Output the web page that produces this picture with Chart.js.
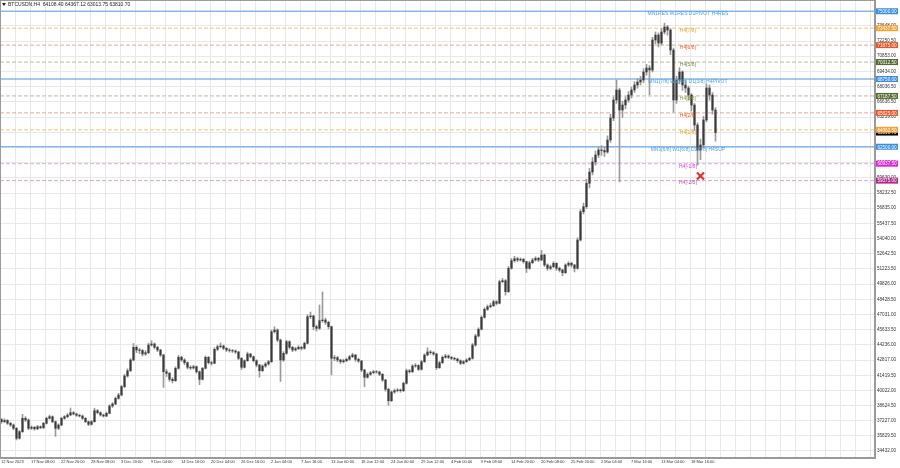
<!DOCTYPE html>
<html lang="en">
<head>
<meta charset="UTF-8">
<title>BTCUSDN,H4</title>
<script src="https://cdn.jsdelivr.net/npm/chart.js@4.4.1/dist/chart.umd.min.js"></script>
<style>
  html, body { margin: 0; padding: 0; background: #fff; }
</style>
</head>
<body>
<canvas id="chart" width="900" height="468"></canvas>
<script>
    // price data (one candle = about 3 H4 bars)
    var firstOpen = 37350;
    var closes = [
        37135, 37246, 36987, 36830, 36526, 35604, 36212, 37449, 37292, 36526,
        36618, 36480, 36674, 36581, 36987, 37449, 37596, 37135, 36526, 36830,
        37449, 37596, 37753, 37965, 37845, 37725, 37661, 37449, 37135, 36895,
        37135, 38150, 37965, 37753, 37661, 37910, 38583, 38768, 39294, 39598,
        40364, 41351, 41840, 42827, 43998, 43749, 43700, 43380, 43500, 44211,
        44303, 43998, 43749, 43288, 41747, 41600, 41046, 40917, 42061, 43076,
        42827, 42578, 42153, 42089, 42209, 41747, 41046, 42061, 43076, 42578,
        42522, 43814, 44054, 44118, 43906, 43749, 43700, 43657, 43565, 42984,
        42153, 42762, 43380, 43131, 42762, 42366, 41840, 42273, 42458, 42670,
        45437, 45594, 44672, 42827, 43445, 44515, 43998, 43749, 43869, 43998,
        43906, 44367, 46821, 46886, 45899, 45751, 46452, 46517, 46305, 45899,
        42984, 43050, 42827, 42670, 42762, 42891, 43131, 43288, 42891, 42735,
        41904, 41231, 41508, 41655, 41747, 41720, 41508, 40982, 40124, 39072,
        39875, 39995, 40059, 39995, 40677, 41840, 41747, 42273, 42320, 41969,
        42670, 43288, 43565, 43500, 43380, 42116, 42578, 43076, 43196, 43076,
        42984, 42919, 42762, 42522, 42670, 42827, 42984, 44211, 45041, 45659,
        46766, 47504, 47744, 47836, 48205, 48057, 50050, 50142, 49127, 51286,
        51987, 52172, 52052, 52116, 51895, 51286, 51803, 52052, 52209, 52052,
        52513, 51591, 51286, 51434, 51747, 51286, 51129, 50880, 51591, 51747,
        51591, 51286, 53897, 56507, 56969, 59127, 60170, 61092, 61738, 62199,
        62150, 62015, 63122, 65151, 66812, 67734, 65889, 66351, 66812, 67273,
        67734, 68196, 68472, 68657, 69395, 69764, 69579, 72347, 72808, 72070,
        73085, 73546, 73269, 71424, 66812, 68657, 69395, 68196, 67919, 67273,
        66351, 64506, 62199, 62661, 64967, 67919, 67273, 65889, 63810.70
    ];
    var highs = [
        37420, 37400, 37330, 37100, 36920, 36600, 36330, 37820, 37600, 37380,
        36760, 36700, 36790, 36750, 37080, 37560, 37750, 37680, 37200, 36950,
        37530, 37700, 37880, 38400, 38080, 37930, 37840, 37750, 37520, 37200,
        37260, 38380, 38260, 38050, 37840, 38020, 38700, 38900, 39420, 39750,
        40500, 41500, 42020, 42960, 44350, 44150, 43900, 43800, 43700, 44380,
        44600, 44400, 44100, 43820, 43350, 41950, 41700, 41200, 42200, 43250,
        43180, 42950, 42650, 42300, 42350, 42280, 41820, 42150, 43200, 43150,
        42700, 43950, 44200, 44400, 44200, 43980, 43880, 43800, 43760, 43620,
        43050, 42850, 43550, 43450, 43200, 42850, 42420, 42380, 42600, 42800,
        45600, 45900, 45700, 44750, 43600, 44650, 44600, 44100, 44000, 44150,
        44100, 44500, 47000, 47250, 46950, 46050, 47900, 49100, 46700, 46400,
        45950, 43250, 43150, 42900, 42900, 43000, 43250, 43450, 43350, 43000,
        42800, 41980, 41650, 41780, 41880, 41850, 41800, 41580, 41050, 40200,
        40000, 40150, 40200, 40150, 40800, 42000, 41950, 42400, 42500, 42400,
        42800, 43400, 43950, 43700, 43600, 43450, 42700, 43200, 43350, 43300,
        43150, 43100, 43000, 42850, 42800, 42950, 43100, 44350, 45200, 45800,
        46900, 47650, 47900, 48050, 48350, 48300, 50200, 50350, 50250, 51450,
        52200, 52400, 52300, 52250, 52200, 51950, 51950, 52200, 52350, 52300,
        52950, 52600, 51700, 51580, 51900, 51800, 51400, 51200, 51700, 51900,
        51850, 51650, 54100, 56700, 57300, 59500, 60500, 61500, 62100, 62500,
        62600, 62500, 63500, 65500, 67100, 68650, 67900, 66700, 67100, 67600,
        68000, 68500, 68800, 69000, 69700, 70100, 70000, 72600, 73100, 73000,
        73400, 73900, 73700, 73400, 71600, 69000, 69800, 69500, 68600, 68100,
        67400, 66500, 64700, 63200, 65300, 68300, 68200, 67500, 66100
    ];
    var lows = [
        36980, 37050, 36880, 36700, 36380, 35450, 35520, 36150, 37150, 36400,
        36420, 36350, 36400, 36480, 36500, 36920, 37380, 37040, 35780, 36400,
        36760, 37350, 37500, 37680, 37760, 37620, 37560, 37340, 37040, 36770,
        36820, 37080, 37850, 37650, 37560, 37600, 37860, 38450, 38700, 39200,
        39520, 40280, 41250, 41760, 42750, 43500, 43420, 43200, 43250, 43420,
        44100, 43850, 43600, 43150, 40300, 41300, 40850, 40700, 40850, 41980,
        42700, 42400, 42000, 41950, 41980, 41600, 40550, 40980, 41990, 42450,
        42350, 42480, 43700, 43950, 43780, 43600, 43550, 43520, 43420, 42850,
        41950, 42080, 42700, 43000, 42650, 42200, 41250, 41760, 42150, 42350,
        42600, 45300, 44500, 40850, 42700, 43350, 43850, 43600, 43650, 43780,
        43750, 43820, 44300, 46650, 45600, 45500, 45650, 46300, 46100, 45700,
        41450, 42750, 42650, 42500, 42550, 42650, 42800, 43050, 42700, 42600,
        41750, 40350, 41150, 41400, 41550, 41600, 41380, 40850, 39950, 38650,
        38980, 39750, 39880, 39850, 39900, 40600, 41600, 41650, 42150, 41850,
        41900, 42600, 43200, 43350, 43250, 41950, 42050, 42500, 43000, 42950,
        42850, 42800, 42600, 42400, 42450, 42600, 42750, 42900, 44100, 44950,
        45600, 46700, 47400, 47650, 47750, 47900, 48000, 49950, 48800, 49050,
        51200, 51850, 51900, 51950, 51750, 50900, 51200, 51700, 51950, 51900,
        51980, 51450, 51100, 51150, 51350, 51100, 50950, 50600, 50800, 51450,
        51400, 50950, 51200, 53800, 56300, 56800, 58700, 59900, 60800, 61500,
        61700, 61600, 61900, 62900, 64900, 66500, 59250, 65200, 66000, 66600,
        67000, 67500, 67900, 68200, 68400, 69100, 67300, 69400, 72000, 71700,
        71900, 72900, 72800, 71000, 65700, 66500, 68300, 67700, 67500, 66800,
        65800, 64000, 60800, 61300, 62400, 64800, 66800, 65500, 63013.75
    ];

    // time axis labels, one every 10 candles
    var xLabels = ['12 Nov 2023', '17 Nov 08:00', '22 Nov 20:00', '28 Nov 08:00', '3 Dec 20:00',
        '9 Dec 04:00', '14 Dec 16:00', '20 Dec 04:00', '26 Dec 16:00', '2 Jan 04:00',
        '7 Jan 16:00', '13 Jan 00:00', '18 Jan 12:00', '24 Jan 00:00', '29 Jan 12:00',
        '4 Feb 00:00', '9 Feb 08:00', '14 Feb 20:00', '20 Feb 08:00', '25 Feb 20:00',
        '2 Mar 04:00', '7 Mar 16:00', '13 Mar 04:00', '18 Mar 16:00'];

    // price axis labels
    var yTicks = [34432.00, 35829.50, 37227.00, 38624.50, 40022.00, 41419.50, 42817.00,
        44236.00, 45633.50, 47031.00, 48428.50, 49826.00, 51223.50, 52642.50, 54040.00,
        55437.50, 56835.00, 58232.50, 59630.00, 61027.50, 62425.00, 63841.50, 65239.00,
        66636.50, 68036.50, 69434.00, 70853.00, 72250.50, 73648.00];

    // murrey / pivot levels
    var levels = [75000, 73437.5, 71875, 70312.5, 68750, 67187.5, 65625, 64062.5, 62500, 60937.5, 59375];
    var levelNames = ['MN1RES W1RES D1PIVOT H4RES', 'H4[7/8]', 'H4[6/8]', 'H4[5/8]',
        'MN1[7/8] W1[7/8] D1[3/8] H4PIVOT', 'H4[3/8]', 'H4[2/8]', 'H4[1/8]',
        'MN1[6/8] W1[6/8] D1[2/8] H4SUP', 'H4[-1/8]', 'H4[-2/8]'];

    // red cross arrow object
    var markX = [233];
    var markY = [59800];

    var headerText = 'BTCUSDN,H4  64108.40 64367.12 63013.75 63810.70';

    // styles
    var lineColors = ['#86b8e8', '#e8c878', '#e4a898', '#b8bea0', '#86b8e8', '#b8bea0', '#e4a898', '#e8c878', '#86b8e8', '#e2a8e2', '#d8a8c8'];
    var textColors = ['#4a9fe6', '#f0a030', '#e8602a', '#6f8f3a', '#4a9fe6', '#8aa04a', '#e8602a', '#f0a030', '#4a9fe6', '#e040e0', '#c450a0'];
    var boxColors = ['#3b8de0', '#f5a030', '#e8562a', '#556b2f', '#3b8de0', '#556b2f', '#e8562a', '#f5a030', '#3b8de0', '#e020e0', '#b02a8a'];
    var solidLevel = [true, false, false, false, true, false, false, false, true, false, false];

    var FONT = "'Liberation Sans', Arial, sans-serif";
    var xMin = -0.5, xMax = 291.17;
    var yMin = 33786, yMax = 76037;

    var wickData = [], bodyData = [];
    closes.forEach(function(c, i) {
        var o = i === 0 ? firstOpen : closes[i - 1];
        wickData.push({x: i, y: [lows[i], highs[i]]});
        bodyData.push({x: i, y: [o, c]});
    });

    var datasets = [];
    levels.forEach(function(lv, i) {
        datasets.push({
            type: 'line',
            data: [{x: xMin, y: lv}, {x: xMax, y: lv}],
            borderColor: lineColors[i],
            borderWidth: solidLevel[i] ? 1.6 : 1,
            borderDash: solidLevel[i] ? [] : [4, 2],
            pointRadius: 0,
            order: 5
        });
    });
    datasets.push({type: 'bar', data: wickData, backgroundColor: '#9a9a9a', barThickness: 1, grouped: false, borderWidth: 0, order: 3});
    datasets.push({type: 'bar', data: bodyData, backgroundColor: '#3a3a3a', barThickness: 1.5, grouped: false, borderWidth: 0, order: 2});
    datasets.push({
        type: 'scatter',
        data: markX.map(function(x, i) { return {x: x, y: markY[i]}; }),
        pointStyle: 'crossRot', pointRadius: 5, borderColor: '#e0302a', borderWidth: 2.2,
        order: 0
    });

    function noPad(scale) {
        scale.paddingLeft = 0; scale.paddingRight = 0;
        scale.paddingTop = 0; scale.paddingBottom = 0;
    }

    // MT4 style extras: border, header, level captions, price boxes
    var decor = {
        id: 'decor',
        afterDraw: function(chart) {
            var ctx = chart.ctx, a = chart.chartArea;
            var xs = chart.scales.x, ys = chart.scales.y;
            ctx.save();
            ctx.strokeStyle = '#9a9a9a';
            ctx.lineWidth = 1;
            ctx.strokeRect(a.left + 0.5, a.top + 0.5, a.right - a.left - 1, a.bottom - a.top - 1);

            // header
            ctx.fillStyle = '#222';
            ctx.beginPath();
            ctx.moveTo(2, 3); ctx.lineTo(6, 3); ctx.lineTo(4, 6); ctx.closePath(); ctx.fill();
            ctx.font = '5px ' + FONT;
            ctx.textBaseline = 'middle';
            ctx.textAlign = 'left';
            ctx.fillText(headerText, 8, 5);

            // level captions
            var cx = xs.getPixelForValue(228.8);
            ctx.textAlign = 'center';
            levels.forEach(function(lv, i) {
                ctx.fillStyle = textColors[i];
                ctx.fillText(levelNames[i], cx, ys.getPixelForValue(lv) + 2.5);
            });

            // last price box, then level boxes
            var bx = a.right + 1, bw = 22, bh = 6;
            ctx.font = '4.6px ' + FONT;
            var py = ys.getPixelForValue(closes[closes.length - 1]);
            ctx.fillStyle = '#000';
            ctx.fillRect(bx, py - bh / 2, bw, bh);
            ctx.fillStyle = '#fff';
            ctx.fillText(closes[closes.length - 1].toFixed(2), bx + bw / 2, py + 0.5);
            levels.forEach(function(lv, i) {
                var y = ys.getPixelForValue(lv);
                ctx.fillStyle = boxColors[i];
                ctx.fillRect(bx, y - bh / 2, bw, bh);
                ctx.fillStyle = '#fff';
                ctx.fillText(lv.toFixed(2), bx + bw / 2, y + 0.5);
            });
            ctx.restore();
        }
    };

    new Chart(document.getElementById('chart'), {
        type: 'bar',
        data: { datasets: datasets },
        options: {
            responsive: false,
            animation: false,
            events: [],
            layout: { padding: 0, autoPadding: false },
            plugins: { legend: { display: false }, tooltip: { enabled: false } },
            scales: {
                x: {
                    type: 'linear',
                    min: xMin, max: xMax,
                    bounds: 'data',
                    offset: false,
                    grid: { color: '#e8e8e8', offset: false, drawTicks: false },
                    border: { color: '#9a9a9a' },
                    afterBuildTicks: function(scale) {
                        var t = [];
                        for (var k = 0; k <= 58; k++) t.push({value: 5 * k - 0.17});
                        scale.ticks = t;
                    },
                    afterFit: function(scale) { scale.height = 10; noPad(scale); },
                    ticks: {
                        autoSkip: false, maxRotation: 0, minRotation: 0,
                        align: 'start', padding: 1,
                        color: '#333', font: { family: FONT, size: 4 },
                        callback: function(v, idx) {
                            return idx % 2 === 0 ? (xLabels[idx / 2] || '') : '';
                        }
                    }
                },
                y: {
                    type: 'linear',
                    position: 'right',
                    min: yMin, max: yMax,
                    bounds: 'data',
                    grid: { color: '#e8e8e8', drawTicks: false },
                    border: { color: '#9a9a9a' },
                    afterBuildTicks: function(scale) {
                        scale.ticks = yTicks.map(function(v) { return {value: v}; });
                    },
                    afterFit: function(scale) { scale.width = 25; noPad(scale); },
                    ticks: {
                        autoSkip: false, padding: 2, crossAlign: 'near',
                        color: '#333', font: { family: FONT, size: 4.6 },
                        callback: function(v) { return Number(v).toFixed(2); }
                    }
                }
            }
        },
        plugins: [decor]
    });
</script>
</body>
</html>
